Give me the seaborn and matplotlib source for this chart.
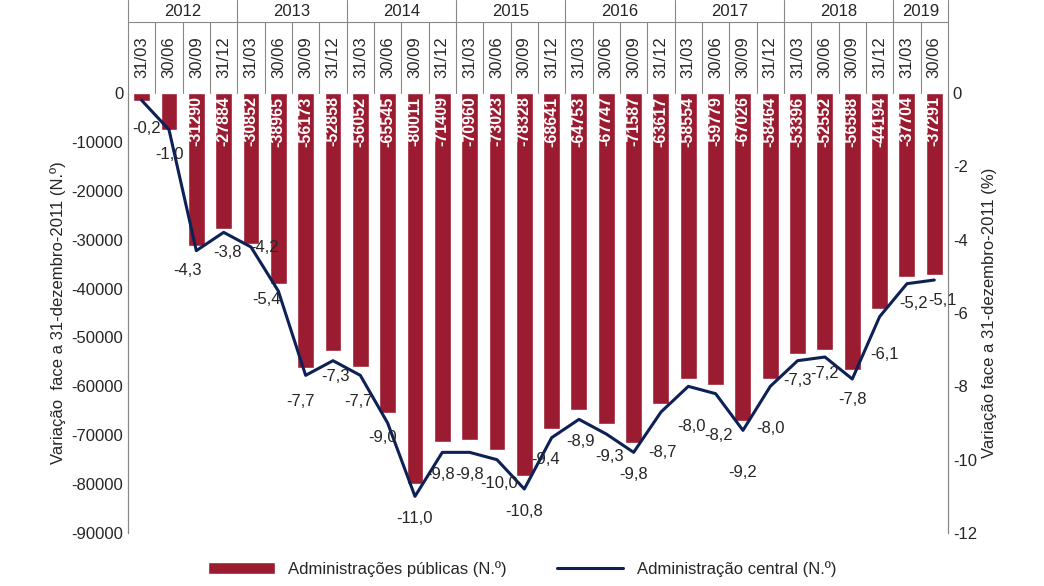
import matplotlib
matplotlib.use("Agg")
import matplotlib.pyplot as plt
import matplotlib.transforms as mtransforms
import seaborn as sns
import pandas as pd
import numpy as np

years = ["2012", "2013", "2014", "2015", "2016", "2017", "2018", "2019"]
year_counts = [4, 4, 4, 4, 4, 4, 4, 2]
dates = ["31/03", "30/06", "30/09", "31/12"] * 7 + ["31/03", "30/06"]
admin_publicas = [-1700, -7500, -31290, -27884, -30852, -38965, -56173, -52858,
                  -56052, -65545, -80011, -71409, -70960, -73023, -78328, -68641,
                  -64753, -67747, -71587, -63617, -58554, -59779, -67026, -58464,
                  -53396, -52552, -56588, -44194, -37704, -37291]
admin_central = [-0.2, -1.0, -4.3, -3.8, -4.2, -5.4, -7.7, -7.3, -7.7, -9.0,
                 -11.0, -9.8, -9.8, -10.0, -10.8, -9.4, -8.9, -9.3, -9.8, -8.7,
                 -8.0, -8.2, -9.2, -8.0, -7.3, -7.2, -7.8, -6.1, -5.2, -5.1]
label_offsets = [(5, -28), (1, -25), (-9, -20), (4, -20), (14, 0), (-12, -8), (-5, -26), (3, -16),
                 (-2, -26), (-5, -14), (0, -22), (-2, -22), (0, -22), (2, -24), (0, -22), (-6, -22),
                 (2, -22), (3, -22), (0, -22), (2, -40), (3, -40), (3, -42), (0, -42), (0, -42),
                 (0, -20), (0, -16), (0, -20), (5, -38), (7, -20), (8, -20)]

sns.set_style("white")
plt.rcParams['font.family'] = ['Liberation Sans', 'DejaVu Sans']
bar_color = "#9b1b30"
line_color = "#0d2157"

fig = plt.figure(figsize=(10.44, 5.86), dpi=100)
ax = fig.add_axes([0.1226, 0.0904, 0.7854, 0.7509])
n = len(dates)
df = pd.DataFrame({"i": range(n), "v": admin_publicas})
sns.barplot(data=df, x="i", y="v", color=bar_color, width=0.62, ax=ax,
            label="Administrações públicas (N.º)", saturation=1)
ax.set_ylim(-90000, 0)
ax.set_xlim(-0.5, n - 0.5)
ticks = np.arange(-90000, 1, 10000)
ax.set_yticks(ticks)
ax.set_yticklabels([str(int(t)) for t in ticks], fontsize=12)
ax.set_xticks([])
ax.set_xlabel("")
ax.set_ylabel("Variação  face a 31-dezembro-2011 (N.º)", fontsize=12)
for i, v in enumerate(admin_publicas):
    if i >= 2:
        ax.text(i, -700, str(v), rotation=90, ha="center", va="top", color="white",
                fontsize=11.5, fontweight="bold", zorder=5)

ax2 = ax.twinx()
sns.lineplot(x=np.arange(n), y=admin_central, color=line_color, lw=2.2, ax=ax2,
             label="Administração central (N.º)")
ax2.set_ylim(-12, 0)
ax2.set_yticks(np.arange(-12, 1, 2))
ax2.set_yticklabels([str(t) for t in np.arange(-12, 1, 2)], fontsize=12)
ax2.set_ylabel("Variação face a 31-dezembro-2011 (%)", fontsize=12)
for i, v in enumerate(admin_central):
    dx, dy = label_offsets[i]
    ax2.annotate(f"{v:.1f}".replace(".", ","), (i, v), xytext=(dx, dy),
                 textcoords="offset pixels", ha="center", va="center", fontsize=12)

for a in (ax, ax2):
    for s in ("top", "bottom"):
        a.spines[s].set_visible(False)
    a.spines["left"].set_color("#888888")
    a.spines["right"].set_color("#888888")
ax.tick_params(axis="y", length=0)
ax2.tick_params(axis="y", length=0)

tr = mtransforms.blended_transform_factory(ax.transData, ax.transAxes)
top, mid, bot = 1.211, 1.161, 1.0
for i in range(n + 1):
    ax.plot([i - 0.5, i - 0.5], [bot, mid], transform=tr, color="#888888", lw=0.8, clip_on=False)
start = 0
for y, c in zip(years, year_counts):
    ax.plot([start - 0.5, start - 0.5], [mid, top], transform=tr, color="#888888", lw=0.8, clip_on=False)
    ax.text(start + c / 2 - 0.5, (mid + top) / 2, y, transform=tr, ha="center", va="center", fontsize=12)
    start += c
ax.plot([n - 0.5, n - 0.5], [mid, top], transform=tr, color="#888888", lw=0.8, clip_on=False)
ax.plot([-0.5, n - 0.5], [mid, mid], transform=tr, color="#888888", lw=0.8, clip_on=False)
for i, d in enumerate(dates):
    ax.text(i, (bot + mid) / 2, d, transform=tr, rotation=90, ha="center", va="center", fontsize=12)

h1, l1 = ax.get_legend_handles_labels()
h2, l2 = ax2.get_legend_handles_labels()
for a in (ax, ax2):
    if a.get_legend():
        a.get_legend().remove()
fig.legend(h1 + h2, l1 + l2, loc="lower center", ncol=2, frameon=False, fontsize=12,
           bbox_to_anchor=(0.5, -0.01), handlelength=4, columnspacing=3)
fig.savefig("out.png", dpi=100)
